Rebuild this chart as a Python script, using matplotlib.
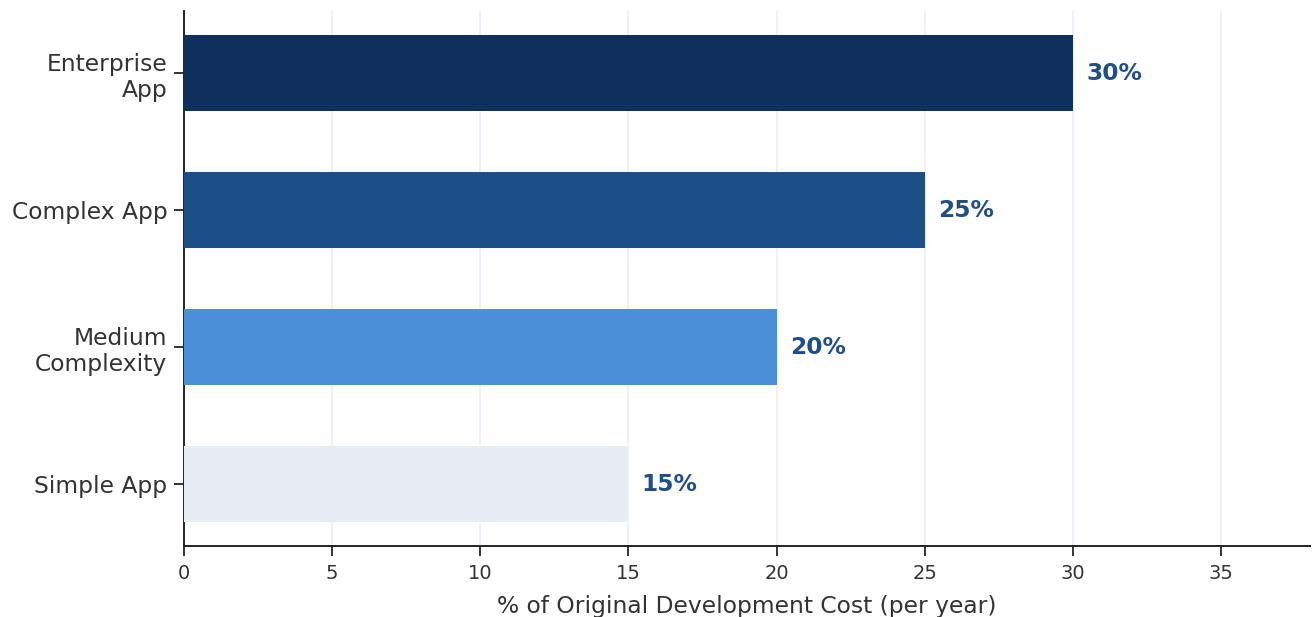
import matplotlib
matplotlib.use("Agg")
import matplotlib.pyplot as plt

# maintenance cost share by app type
categories = ["Simple App", "Medium\nComplexity", "Complex App", "Enterprise\nApp"]
values = [15, 20, 25, 30]
bar_colors = ["#e8edf4", "#4a90d9", "#1c4f88", "#0f2f5c"]
x_ticks = [0, 5, 10, 15, 20, 25, 30, 35]

plt.rcParams['font.family'] = ['DejaVu Sans']

DPI = 140
fig = plt.figure(figsize=(1314 / DPI, 617 / DPI), dpi=DPI)
ax = fig.add_axes([0.140, 0.115, 0.857, 0.867])

ax.barh(range(len(categories)), values, height=0.55, color=bar_colors, zorder=3)

for i, v in enumerate(values):
    ax.text(v + 0.45, i, f"{v}%", va="center", ha="left",
            fontsize=12, fontweight="bold", color="#1f4e8c")

ax.set_yticks(range(len(categories)))
ax.set_yticklabels(categories, fontsize=12, color="#333333")
ax.set_xticks(x_ticks)
ax.tick_params(axis="x", labelsize=10, colors="#333333", pad=4)
ax.tick_params(axis="y", pad=3.5)
ax.tick_params(axis="both", color="#333333", length=5, width=1)
ax.set_xlim(0, 38)
ax.set_xlabel("% of Original Development Cost (per year)", fontsize=12,
              color="#333333", labelpad=6.5)

ax.grid(axis="x", color="#eef1f7", linewidth=1, zorder=0)
ax.set_axisbelow(True)
for side in ["top", "right"]:
    ax.spines[side].set_visible(False)
for side in ["left", "bottom"]:
    ax.spines[side].set_color("#222222")
    ax.spines[side].set_linewidth(1.0)

fig.savefig("out.png", dpi=DPI)
